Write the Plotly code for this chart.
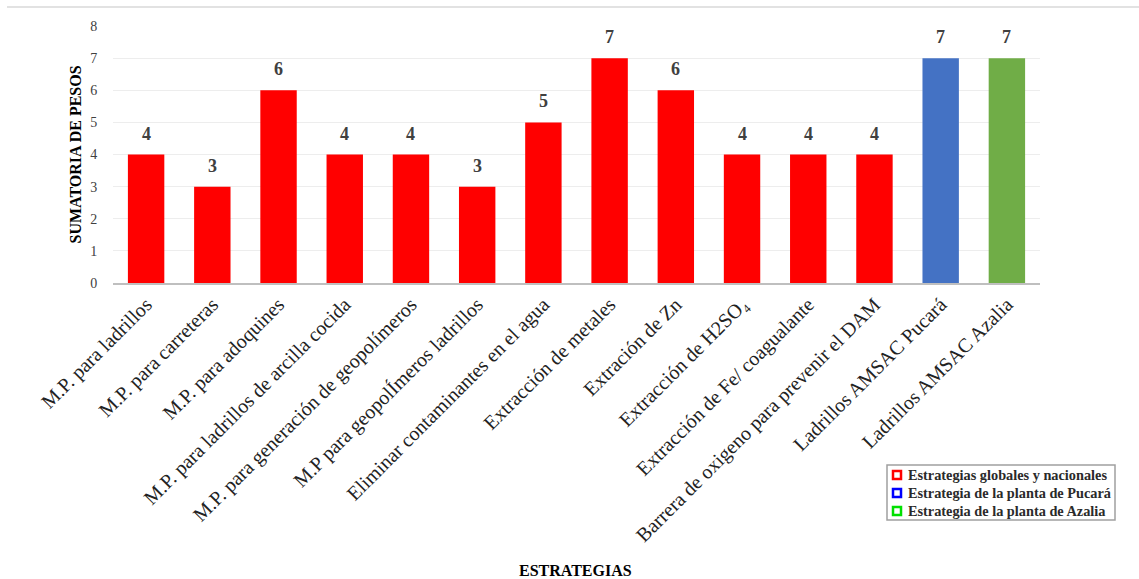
import plotly.graph_objects as go

estrategias = [
    "M.P. para ladrillos",
    "M.P. para carreteras",
    "M.P. para adoquines",
    "M.P. para ladrillos de arcilla cocida",
    "M.P. para generación de geopolímeros",
    "M.P para geopolÍmeros ladrillos",
    "Eliminar contaminantes en el agua",
    "Extracción de metales",
    "Extración de Zn",
    "Extracción de H2SO₄",
    "Extracción de Fe/ coagualante",
    "Barrera de oxigeno para prevenir el DAM",
    "Ladrillos AMSAC Pucará",
    "Ladrillos AMSAC Azalia",
]
pesos = [4, 3, 6, 4, 4, 3, 5, 7, 6, 4, 4, 4, 7, 7]
grupo = ["global"] * 12 + ["pucara", "azalia"]

bar_colors = {"global": "#FF0000", "pucara": "#4472C4", "azalia": "#70AD47"}
legend_names = [
    "Estrategias globales y nacionales",
    "Estrategia de la planta de Pucará",
    "Estrategia de la planta de Azalia",
]
legend_colors = ["#FF0000", "#0000FF", "#00E000"]

SERIF = "Liberation Serif, Times New Roman, serif"

# plot area in pixels, used to place the hand-drawn legend box
L, R, T, B = 113, 1040, 26, 283


def px_x(px):
    return (px - L) / (R - L)


def px_y(py):
    return (B - py) / (B - T)


fig = go.Figure()
fig.add_trace(go.Bar(
    x=estrategias,
    y=pesos,
    marker=dict(color=[bar_colors[g] for g in grupo], line=dict(width=0)),
    showlegend=False,
    width=0.55,
    hoverinfo="x+y",
))

annotations = []
# value labels above each bar
for cat, val in zip(estrategias, pesos):
    annotations.append(dict(
        x=cat, y=val, xref="x", yref="y", text=f"<b>{val}</b>",
        showarrow=False, yanchor="bottom", yshift=9,
        font=dict(family=SERIF, size=18, color="#404040"),
    ))

annotations += [
    dict(text="<b>SUMATORIA DE PESOS</b>", xref="paper", yref="paper",
         x=px_x(75), y=0.5, xanchor="center", yanchor="middle",
         textangle=-90, showarrow=False,
         font=dict(family=SERIF, size=16, color="#000000")),
    dict(text="<b>ESTRATEGIAS</b>", xref="paper", yref="paper",
         x=px_x(575), y=px_y(570), xanchor="center", yanchor="middle",
         showarrow=False,
         font=dict(family=SERIF, size=16, color="#000000")),
]

shapes = [dict(
    type="line", xref="paper", yref="paper",
    x0=px_x(7), x1=px_x(1139), y0=px_y(7), y1=px_y(7),
    line=dict(color="#D9D9D9", width=1.5),
)]

# legend box
shapes.append(dict(
    type="rect", xref="paper", yref="paper",
    x0=px_x(887), x1=px_x(1115), y0=px_y(465), y1=px_y(520),
    line=dict(color="#A0A0A0", width=1.5), fillcolor="white",
))
for i, (name, col) in enumerate(zip(legend_names, legend_colors)):
    cy = 475 + 18 * i
    shapes.append(dict(
        type="rect", xref="paper", yref="paper",
        x0=px_x(893), x1=px_x(901), y0=px_y(cy + 4), y1=px_y(cy - 4),
        line=dict(color=col, width=2.5), fillcolor="white",
    ))
    annotations.append(dict(
        text=f"<b>{name}</b>", xref="paper", yref="paper",
        x=px_x(906), y=px_y(cy), xanchor="left", yanchor="middle",
        showarrow=False,
        font=dict(family=SERIF, size=14.3, color="#2a2a2a"),
    ))

fig.update_layout(
    width=1139, height=579,
    margin=dict(l=L, r=1139 - R, t=T, b=579 - B),
    plot_bgcolor="white", paper_bgcolor="white",
    font=dict(family=SERIF, color="#000000"),
    showlegend=False,
    xaxis=dict(
        tickangle=-45,
        tickfont=dict(family=SERIF, size=20, color="#222222"),
        showline=True, linecolor="#BFBFBF", linewidth=2,
        ticks="", showgrid=False, automargin=False,
    ),
    yaxis=dict(
        range=[0, 8], dtick=1,
        tickfont=dict(family=SERIF, size=14, color="#404040"),
        showgrid=True, gridcolor="#EDEDED", gridwidth=1,
        zeroline=False, showline=False, automargin=False,
        ticks="outside", ticklen=12, tickcolor="rgba(0,0,0,0)",
    ),
    shapes=shapes,
    annotations=annotations,
)

fig.write_html("out.html")
